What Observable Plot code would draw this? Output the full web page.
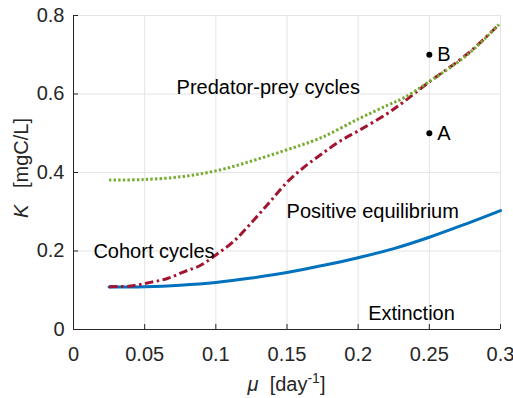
<!DOCTYPE html>
<html>
<head>
<meta charset="utf-8">
<script src="https://cdn.jsdelivr.net/npm/d3@7"></script>
<script src="https://cdn.jsdelivr.net/npm/@observablehq/plot@0.6"></script>
<style>
  html, body { margin: 0; padding: 0; background: #fff; }
</style>
</head>
<body>
<div id="chart"></div>
<script>
// Axis ticks
const xTicks = [0, 0.05, 0.1, 0.15, 0.2, 0.25, 0.3];
const yTicks = [0, 0.2, 0.4, 0.6, 0.8];

// Existence boundary of the positive equilibrium (solid blue)
const equilibriumMu = [0.025, 0.05, 0.075, 0.1, 0.125, 0.15, 0.175, 0.2, 0.225, 0.25, 0.275, 0.3];
const equilibriumK  = [0.108, 0.109, 0.113, 0.12, 0.131, 0.145, 0.163, 0.183, 0.206, 0.235, 0.268, 0.303];

// Onset of cohort cycles (dash-dot red)
const cohortMu = [0.025, 0.04, 0.054, 0.066, 0.0775, 0.089, 0.1, 0.1127, 0.1267, 0.1384, 0.15, 0.1618, 0.1736, 0.1864, 0.2005, 0.2204, 0.232, 0.2497, 0.2767, 0.2989];
const cohortK  = [0.109, 0.111, 0.12, 0.13, 0.147, 0.163, 0.19, 0.225, 0.279, 0.327, 0.375, 0.413, 0.445, 0.478, 0.507, 0.55, 0.58, 0.63, 0.702, 0.777];

// Onset of predator-prey cycles (dotted green)
const predatorMu = [0.025, 0.049, 0.0775, 0.1033, 0.1267, 0.15, 0.1736, 0.2005, 0.2204, 0.232, 0.2497, 0.2767, 0.2989];
const predatorK  = [0.381, 0.382, 0.39, 0.407, 0.431, 0.458, 0.488, 0.537, 0.571, 0.59, 0.631, 0.7, 0.777];

// Marked parameter combinations
const pointNames = ["A", "B"];
const pointMu = [0.25, 0.25];
const pointK  = [0.5, 0.7];

// Region annotations (left-aligned at these coordinates)
const regionNames = ["Predator-prey cycles", "Cohort cycles", "Positive equilibrium", "Extinction"];
const regionMu = [0.0724, 0.014, 0.1497, 0.207];
const regionK  = [0.617, 0.198, 0.3, 0.04];

const rows = (xs, ys) => xs.map((x, i) => ({mu: x, K: ys[i]}));
const ink = "#262626";
const fmt = d => String(d);
const points = pointNames.map((n, i) => ({n, mu: pointMu[i], K: pointK[i]}));
const regions = regionNames.map((n, i) => ({n, mu: regionMu[i], K: regionK[i]}));

const chart = Plot.plot({
  width: 513,
  height: 398,
  marginLeft: 73,
  marginRight: 13,
  marginTop: 15,
  marginBottom: 69,
  style: {fontFamily: "'Liberation Sans', Arial, sans-serif", fontSize: "20px", color: ink, background: "#fff"},
  x: {domain: [0, 0.3]},
  y: {domain: [0, 0.8]},
  marks: [
    Plot.gridX(xTicks, {stroke: "#e4e4e4", strokeOpacity: 1, strokeWidth: 1}),
    Plot.gridY(yTicks, {stroke: "#e4e4e4", strokeOpacity: 1, strokeWidth: 1}),
    Plot.ruleX([0], {stroke: ink, strokeWidth: 1}),
    Plot.ruleY([0], {stroke: ink, strokeWidth: 1}),
    // inward tick marks
    Plot.ruleX(xTicks, {x: d => d, y1: 0, y2: 0, insetTop: -5, stroke: ink}),
    Plot.ruleY(yTicks, {y: d => d, x1: 0, x2: 0, insetRight: -5, stroke: ink}),
    Plot.axisX(xTicks, {tickSize: 0, tickPadding: 17, tickFormat: fmt, label: null, fill: ink, fontSize: 20}),
    Plot.axisY(yTicks, {tickSize: 0, tickPadding: 9, tickFormat: fmt, label: null, fill: ink, fontSize: 20}),
    Plot.line(rows(equilibriumMu, equilibriumK), {x: "mu", y: "K", stroke: "#0072BD", strokeWidth: 3, curve: "catmull-rom"}),
    Plot.line(rows(cohortMu, cohortK), {x: "mu", y: "K", stroke: "#A2142F", strokeWidth: 3, strokeDasharray: "8.5,3.5,2.5,3.5", strokeLinecap: "butt", curve: "catmull-rom"}),
    Plot.line(rows(predatorMu, predatorK), {x: "mu", y: "K", stroke: "#77AC30", strokeWidth: 3, strokeDasharray: "2.4,2.2", strokeLinecap: "butt", curve: "catmull-rom"}),
    Plot.dot(points, {x: "mu", y: "K", r: 3, fill: "#000", stroke: null}),
    Plot.text(points, {x: "mu", y: "K", text: "n", dx: 8, textAnchor: "start", fill: "#000", fontSize: 20}),
    Plot.text(regions, {x: "mu", y: "K", text: "n", textAnchor: "start", fill: "#000", fontSize: 20})
  ]
});

// Axis titles with italic symbols and a superscript exponent
const svg = d3.select(chart);
const xt = svg.append("text")
  .attr("x", (73 + 500) / 2).attr("y", 391)
  .attr("text-anchor", "middle").attr("fill", ink).attr("font-size", 20);
xt.append("tspan").attr("font-style", "italic").text("μ");
xt.append("tspan").text("\u00a0\u00a0[day");
xt.append("tspan").attr("font-size", 14).attr("dy", -8).text("-1");
xt.append("tspan").attr("dy", 8).text("]");

const yt = svg.append("text")
  .attr("transform", "translate(28,168) rotate(-90)")
  .attr("text-anchor", "middle").attr("fill", ink).attr("font-size", 20);
yt.append("tspan").attr("font-style", "italic").text("K");
yt.append("tspan").text("\u00a0\u00a0\u00a0[mgC/L]");

document.getElementById("chart").appendChild(chart);
</script>
</body>
</html>
